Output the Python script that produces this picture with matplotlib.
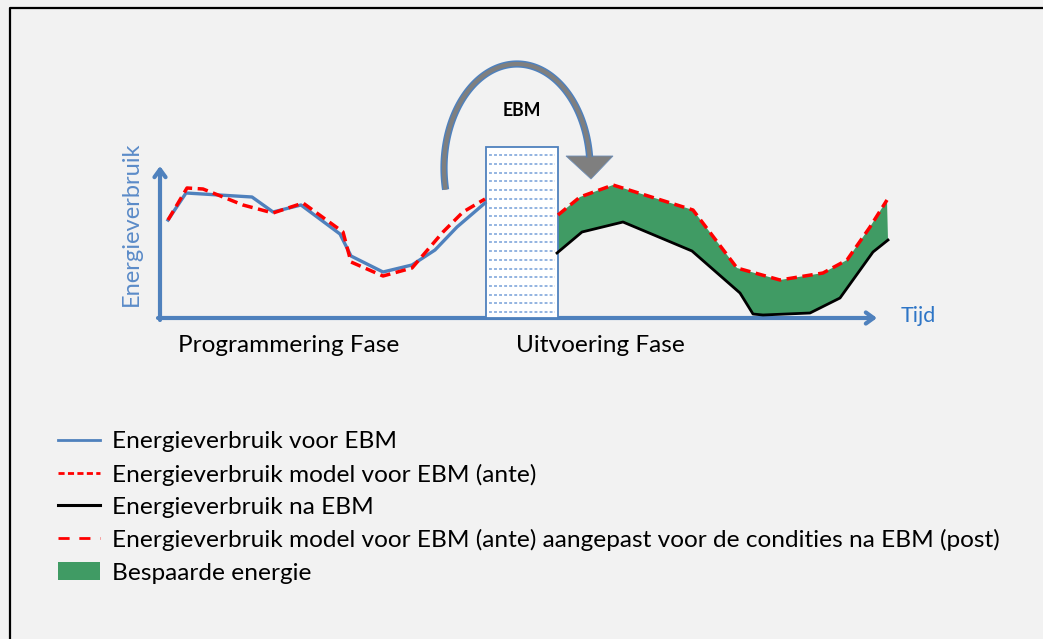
import numpy as np
import matplotlib
matplotlib.use("Agg")
import matplotlib.pyplot as plt
from matplotlib.lines import Line2D
from matplotlib.patches import Patch, Rectangle, Polygon
import matplotlib.patheffects as pe

plt.rcParams["font.family"] = ["Lato", "DejaVu Sans"]

# time / energy values (arbitrary units)
t_voor = [8, 26, 92, 113, 141, 180, 191, 223, 252, 275, 297, 325]
e_voor = [98, 125, 121, 106, 113, 84, 62, 46, 53, 68, 91, 115]

t_model = [8, 27, 43, 83, 113, 143, 183, 191, 223, 252, 283, 303, 325]
e_model = [98, 130, 129, 113, 105, 115, 86, 56, 42, 50, 86, 106, 119]

t_post = [398, 420, 453, 533, 577, 620, 663, 687, 710, 727]
e_post = [103, 121, 133, 108, 50, 38, 45, 58, 91, 118]

t_na = [397, 422, 463, 532, 580, 593, 603, 650, 680, 713, 728]
e_na = [65, 86, 96, 67, 25, 4, 3, 5, 20, 66, 78]

ebm_start, ebm_end, ebm_height = 326, 398, 171

legend_labels = [
    "Energieverbruik voor EBM",
    "Energieverbruik model voor EBM (ante)",
    "Energieverbruik na EBM",
    "Energieverbruik model voor EBM (ante) aangepast voor de condities na EBM (post)",
    "Bespaarde energie",
]

BLUE = "#4f81bd"
RED = "#ff0000"
GREEN = "#409b64"
GRAY = "#7f7f7f"
BG = "#f2f2f2"

W, H = 1043, 639
fig = plt.figure(figsize=(W / 100, H / 100), dpi=100, facecolor=BG)

# overlay in pixel coordinates for the diagram furniture
bg = fig.add_axes([0, 0, 1, 1])
bg.set_xlim(0, W)
bg.set_ylim(H, 0)
bg.axis("off")
bg.plot([9.5, 9.5, W], [H, 8, 8], color="black", lw=1.6, solid_capstyle="butt")

# axes arrows
arrow = dict(arrowstyle="->,head_length=0.55,head_width=0.4", lw=3, color=BLUE,
             shrinkA=0, shrinkB=0)
bg.annotate("", xy=(160, 166), xytext=(160, 320), arrowprops=arrow)
bg.annotate("", xy=(877, 318), xytext=(158, 318), arrowprops=arrow)

bg.text(131, 224, "Energieverbruik", rotation=90, ha="center", va="center",
        fontsize=17, color="#5b8bc8")
bg.text(901, 316, "Tijd", ha="left", va="center", fontsize=15.5, color="#2e75c6")
bg.text(178, 345, "Programmering Fase", ha="left", va="center", fontsize=17.6)
bg.text(516, 345, "Uitvoering Fase", ha="left", va="center", fontsize=17.6)

# curved EBM arrow
theta = np.radians(np.linspace(192, 6, 120))
cx, cy, rx, ry = 517, 168, 73, 104
bg.plot(cx + rx * np.cos(theta), cy - ry * np.sin(theta), color=GRAY, lw=3,
        solid_capstyle="butt",
        path_effects=[pe.Stroke(linewidth=5.2, foreground=BLUE), pe.Normal()])
bg.add_patch(Polygon([(566, 156), (613, 156), (591, 179)], closed=True,
                     facecolor=GRAY, edgecolor="#6f8fb8", lw=0.6))
bg.text(522, 110, "EBM", ha="center", va="center", fontsize=12.8, fontweight="bold")

# data axes: origin of the diagram axes at pixel (160, 318)
ax = fig.add_axes([160 / W, (H - 318) / H, 740 / W, 175 / H])
ax.set_xlim(0, 740)
ax.set_ylim(0, 175)
ax.axis("off")
ax.patch.set_alpha(0)

# EBM block with a light dashed texture
ax.add_patch(Rectangle((ebm_start, 0), ebm_end - ebm_start, ebm_height,
                       facecolor="white", edgecolor="none", zorder=2))
rows = np.arange(6, ebm_height - 2, 8.7)
ax.hlines(rows, ebm_start + 3, ebm_end - 3, colors="#8aaede", lw=1.3,
          linestyles=(0, (1.6, 1.2)), zorder=2)
ax.add_patch(Rectangle((ebm_start, 0), ebm_end - ebm_start, ebm_height,
                       facecolor="none", edgecolor=BLUE, lw=1.3, zorder=2))

ax.fill(np.concatenate([t_post, t_na[::-1]]), np.concatenate([e_post, e_na[::-1]]),
        color=GREEN, lw=0, zorder=1)
ax.plot(t_voor, e_voor, color=BLUE, lw=2.4, zorder=3)
ax.plot(t_model, e_model, color=RED, lw=2.5, dashes=(3, 1.6), zorder=4)
ax.plot(t_na, e_na, color="black", lw=2, zorder=3)
ax.plot(t_post, e_post, color=RED, lw=2.5, dashes=(3, 1.6), zorder=4)

handles = [
    Line2D([], [], color=BLUE, lw=2),
    Line2D([], [], color=RED, lw=2, dashes=(2.2, 1.2)),
    Line2D([], [], color="black", lw=2.2),
    Line2D([], [], color=RED, lw=2, dashes=(4, 3.5)),
    Patch(facecolor=GREEN, edgecolor="none"),
]
fig.legend(handles, legend_labels, loc="upper left", bbox_to_anchor=(58 / W, 1 - 431 / H),
           frameon=False, fontsize=17.6, handlelength=1.72, handleheight=0.75,
           handletextpad=0.5, labelspacing=0.45, borderpad=0, borderaxespad=0)

fig.savefig("out.png", dpi=100, facecolor=BG)
